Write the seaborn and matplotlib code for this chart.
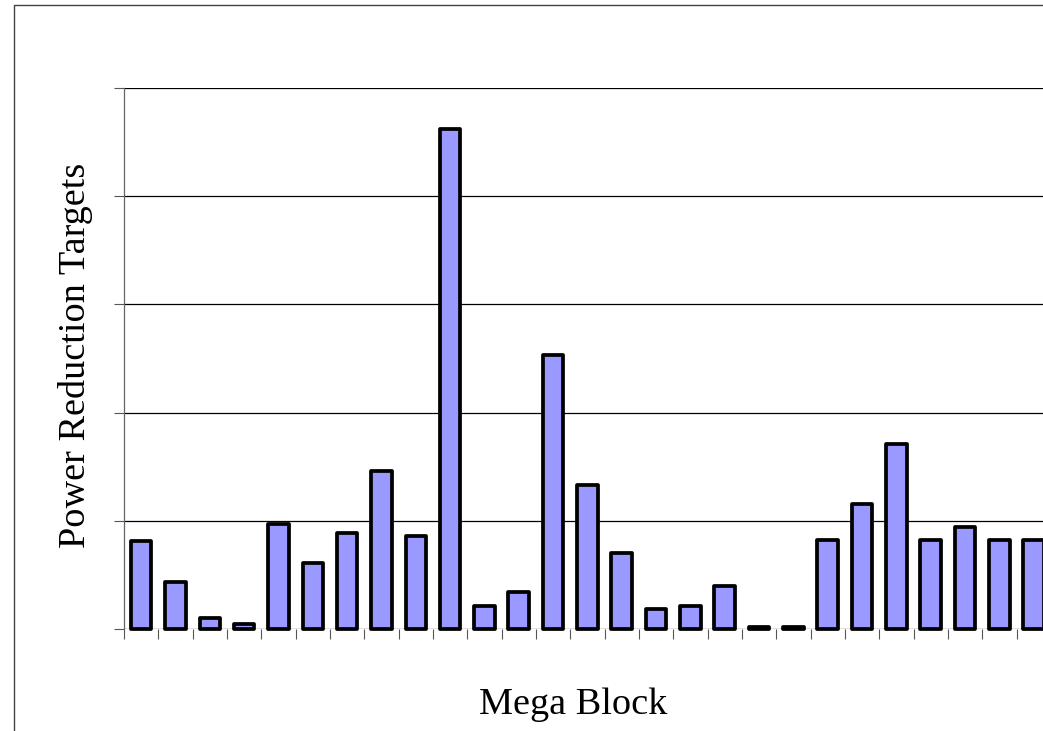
import matplotlib
matplotlib.use("Agg")
import matplotlib.pyplot as plt
from matplotlib.lines import Line2D
import seaborn as sns
import pandas as pd
import numpy as np

# Power reduction target per mega block (in grid units)
blocks = list(range(1, 28))
targets = [0.81, 0.43, 0.10, 0.05, 0.97, 0.61, 0.89, 1.46, 0.86, 4.62,
           0.21, 0.34, 2.53, 1.33, 0.70, 0.185, 0.21, 0.40, 0.02, 0.02,
           0.82, 1.155, 1.71, 0.82, 0.94, 0.82, 0.82]
grid_levels = [0, 1, 2, 3, 4, 5]

df = pd.DataFrame({"block": blocks, "target": targets})

sns.set_theme(style="white")
plt.rcParams["font.family"] = ["Liberation Serif", "DejaVu Serif"]

W, H = 1043, 731
fig = plt.figure(figsize=(W / 100, H / 100), dpi=100)
fig.patch.set_facecolor("white")

# axes spans 27 category slots; right part runs off the page
left_px, right_px = 124, 124 + 27 * 34.33
top_px, base_px = 88, 629
ax = fig.add_axes([left_px / W, (H - base_px) / H,
                   (right_px - left_px) / W, (base_px - top_px) / H])

sns.barplot(data=df, x="block", y="target", color="#9999FF", saturation=1,
            edgecolor="black", linewidth=2.7, width=0.6, ax=ax, zorder=3)
for p in ax.patches:
    p.set_joinstyle("round")
    p.set_clip_on(False)

ax.set_xlim(-0.5, len(blocks) - 0.5)
ax.set_ylim(grid_levels[0], grid_levels[-1])

# horizontal gridlines with small ticks on the left
ax.set_yticks(grid_levels)
ax.set_yticklabels([])
for lv in grid_levels:
    ax.axhline(lv, color="black", lw=0.9, zorder=1)
ax.tick_params(axis="y", left=True, length=7, width=0.8, color="#555555")

# x ticks sit between categories
ax.set_xticks(np.arange(-0.5, len(blocks), 1.0))
ax.set_xticklabels([])
ax.tick_params(axis="x", bottom=True, length=7, width=0.8, color="#555555",
               direction="out")

for s in ["top", "right", "bottom"]:
    ax.spines[s].set_visible(False)
ax.spines["left"].set_color("#666666")
ax.spines["left"].set_linewidth(0.9)

ax.set_xlabel("")
ax.set_ylabel("")
fig.text(573 / W, 1 - 705 / H, "Mega Block", ha="center", va="center",
         fontsize=27.5, color="black")
fig.text(76 / W, 1 - 355 / H, "Power Reduction Targets", ha="center",
         va="center", rotation=90, fontsize=27.5, color="black")

# outer frame of the chart area
fig.add_artist(Line2D([13.5 / W, 13.5 / W], [0, 1 - 4.5 / H],
                      transform=fig.transFigure, color="#444444", lw=1))
fig.add_artist(Line2D([13.5 / W, 1], [1 - 4.5 / H, 1 - 4.5 / H],
                      transform=fig.transFigure, color="#444444", lw=1))

fig.savefig("out.png", dpi=100, facecolor="white")
